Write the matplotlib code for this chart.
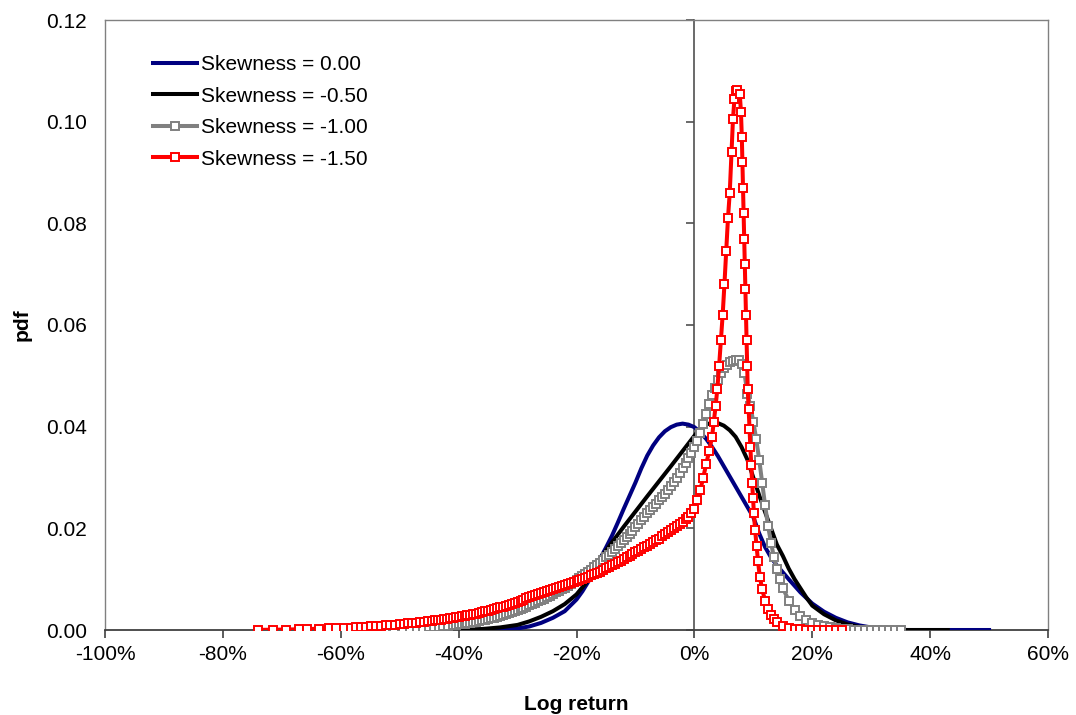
import matplotlib
matplotlib.use('Agg')
import matplotlib.pyplot as plt
from matplotlib.ticker import FuncFormatter

plt.rcParams['font.family'] = ['Liberation Sans', 'DejaVu Sans']

# log return in percent, pdf value
skew_000_x = [-45, -40, -36, -33, -30, -28, -26, -24, -22, -20, -19, -18, -17, -16,
              -15, -14, -13, -12, -11, -10, -9, -8, -7, -6, -5, -4, -3, -2, -1, 0,
              1, 2, 3, 4, 6, 8, 10, 11, 12, 13, 14, 16, 18, 20, 22, 24, 26, 28, 30,
              33, 36, 50]
skew_000_y = [0.0, 0.0, 0.0, 0.0001, 0.0003, 0.0007, 0.0014, 0.0024, 0.0037, 0.0060,
              0.0076, 0.0095, 0.0117, 0.0140, 0.0162, 0.0185, 0.0211, 0.0238, 0.0264,
              0.0290, 0.0318, 0.0343, 0.0363, 0.0379, 0.0391, 0.0399, 0.0404, 0.0406,
              0.0404, 0.0399, 0.0389, 0.0376, 0.0360, 0.0342, 0.0302, 0.0262, 0.0222,
              0.0190, 0.0163, 0.0143, 0.0127, 0.0100, 0.0074, 0.0052, 0.0036, 0.0024,
              0.0015, 0.0009, 0.0005, 0.0002, 0.0, 0.0]

skew_050_x = [-45, -40, -36, -33, -30, -28, -26, -24, -22, -20, -18, -16, -14, -12,
              -8, -4, 0, 1, 2, 3, 4, 5, 6, 7, 8, 9, 10, 11, 12, 13, 14, 15, 16, 17,
              18, 19, 20, 22, 24, 26, 28, 30, 33, 36, 43]
skew_050_y = [0.0, 0.0, 0.0002, 0.0005, 0.0010, 0.0017, 0.0026, 0.0037, 0.0051, 0.0070,
              0.0098, 0.0140, 0.0172, 0.0203, 0.0263, 0.0322, 0.0382, 0.0397, 0.0404,
              0.0408, 0.0407, 0.0402, 0.0393, 0.0380, 0.0360, 0.0335, 0.0300, 0.0265,
              0.0232, 0.0200, 0.0168, 0.0146, 0.0121, 0.0100, 0.0082, 0.0064, 0.0048,
              0.0031, 0.0019, 0.0011, 0.0006, 0.0003, 0.0001, 0.0, 0.0]

skew_100 = [
    (-62, 0.0), (-59, 0.00002), (-56.5, 0.00005), (-54.5, 0.00009), (-52.5, 0.00013),
    (-51, 0.00017), (-49.5, 0.00023), (-48.2, 0.00029), (-47, 0.00036), (-46, 0.00043),
    (-45, 0.00051), (-44.2, 0.00058), (-43.4, 0.00066), (-42.6, 0.00075),
    (-41.8, 0.00085), (-41, 0.00095), (-40.5, 0.00102), (-40, 0.00110),
    (-39.5, 0.00118), (-39, 0.00127), (-38.5, 0.00136), (-38, 0.00146),
    (-37.5, 0.00156), (-37, 0.00167), (-36.5, 0.00178), (-36, 0.00190),
    (-35.5, 0.00203), (-35, 0.00216), (-34.5, 0.00230), (-34, 0.00245),
    (-33.5, 0.00261), (-33, 0.00277), (-32.5, 0.00294), (-32, 0.00312),
    (-31.5, 0.00331), (-31, 0.00350), (-30.5, 0.00371), (-30, 0.00392),
    (-29.5, 0.00414), (-29, 0.00437), (-28.5, 0.00461), (-28, 0.00485),
    (-27.5, 0.00510), (-27, 0.00536), (-26.5, 0.00563), (-26, 0.00590),
    (-25.5, 0.00618), (-25, 0.00647), (-24.5, 0.00677), (-24, 0.00707),
    (-23.5, 0.00738), (-23, 0.00770), (-22.5, 0.00803), (-22, 0.00836),
    (-21.5, 0.00870), (-21, 0.00905), (-20.5, 0.00942), (-20, 0.00980),
    (-19.5, 0.01020), (-19, 0.01060), (-18.5, 0.01105), (-18, 0.01150),
    (-17.5, 0.01190), (-17, 0.01230), (-16.5, 0.01275), (-16, 0.01320),
    (-15.5, 0.01375), (-15, 0.01430), (-14.5, 0.01485), (-14, 0.01540),
    (-13.5, 0.01595), (-13, 0.01650), (-12.5, 0.01710), (-12, 0.01770),
    (-11.5, 0.01830), (-11, 0.01890), (-10.5, 0.01955), (-10, 0.02020),
    (-9.5, 0.02090), (-9, 0.02160), (-8.5, 0.02230), (-8, 0.02300),
    (-7.5, 0.02360), (-7, 0.02420), (-6.5, 0.02485), (-6, 0.02550),
    (-5.5, 0.02615), (-5, 0.02680), (-4.5, 0.02755), (-4, 0.02830),
    (-3.5, 0.02915), (-3, 0.03000), (-2.5, 0.03090), (-2, 0.03180),
    (-1.5, 0.03280), (-1, 0.03380), (-0.5, 0.03490), (0, 0.03600),
    (0.5, 0.0372), (1, 0.0388), (1.5, 0.0405), (2, 0.0425), (2.5, 0.0445),
    (3, 0.0462), (3.5, 0.0477), (4, 0.0492), (4.5, 0.0505), (5, 0.0515),
    (5.5, 0.0522), (6, 0.0527), (6.5, 0.0530), (7, 0.0532), (7.5, 0.0531),
    (8, 0.0524), (8.5, 0.0505), (9, 0.0465), (9.5, 0.0440), (10, 0.0410),
    (10.5, 0.0375), (11, 0.0335), (11.5, 0.0290), (12, 0.0245), (12.5, 0.0205),
    (13, 0.0172), (13.5, 0.0143), (14, 0.0120), (14.5, 0.0100), (15, 0.0083),
    (16, 0.0058), (17, 0.0040), (18, 0.0028), (19, 0.0020), (20, 0.0014),
    (21, 0.0010), (22, 0.0007), (23, 0.0005), (24, 0.0003), (25, 0.0002),
    (26, 0.0001), (27, 0.0), (28, 0.0), (29, 0.0), (30, 0.0), (31, 0.0), (32, 0.0),
    (33, 0.0), (34, 0.0), (35, 0.0),
]

skew_150 = [
    (-74, 0.00003), (-71.5, 0.00005), (-69.3, 0.00009), (-67.1, 0.00014),
    (-65.7, 0.00018), (-63.7, 0.00024), (-62, 0.00030), (-60.8, 0.00035),
    (-59.5, 0.00041), (-58.3, 0.00048), (-57.4, 0.00054), (-56.6, 0.00059),
    (-55.7, 0.00066), (-54.8, 0.00073), (-54, 0.00078), (-53.2, 0.00085),
    (-52.4, 0.00092), (-51.6, 0.00099), (-50.8, 0.00106), (-50, 0.00114),
    (-49.3, 0.00121), (-48.6, 0.00128), (-47.9, 0.00136), (-47.2, 0.00144),
    (-46.5, 0.00153), (-45.8, 0.00162), (-45.2, 0.00170), (-44.5, 0.00181),
    (-44, 0.00188), (-43.5, 0.00196), (-43, 0.00204), (-42.5, 0.00212),
    (-42, 0.00220), (-41.5, 0.00229), (-41, 0.00238), (-40.5, 0.00248),
    (-40, 0.00258), (-39.5, 0.00268), (-39, 0.00278), (-38.5, 0.00289),
    (-38, 0.00300), (-37.5, 0.00312), (-37, 0.00324), (-36.5, 0.00337),
    (-36, 0.00350), (-35.5, 0.00364), (-35, 0.00378), (-34.5, 0.00394),
    (-34, 0.00410), (-33.5, 0.00427), (-33, 0.00444), (-32.5, 0.00462),
    (-32, 0.00480), (-31.5, 0.00500), (-31, 0.00520), (-30.5, 0.00540),
    (-30, 0.00560), (-29.5, 0.00580), (-29, 0.00600), (-28.5, 0.00620),
    (-28, 0.00640), (-27.5, 0.00660), (-27, 0.00680), (-26.5, 0.00700),
    (-26, 0.00720), (-25.5, 0.00740), (-25, 0.00760), (-24.5, 0.00780),
    (-24, 0.00800), (-23.5, 0.00820), (-23, 0.00840), (-22.5, 0.00860),
    (-22, 0.00880), (-21.5, 0.00900), (-21, 0.00920), (-20.5, 0.00940),
    (-20, 0.00960), (-19.5, 0.00982), (-19, 0.01005), (-18.5, 0.01027),
    (-18, 0.01050), (-17.5, 0.01075), (-17, 0.01100), (-16.5, 0.01125),
    (-16, 0.01150), (-15.5, 0.01180), (-15, 0.01210), (-14.5, 0.01240),
    (-14, 0.01270), (-13.5, 0.01302), (-13, 0.01335), (-12.5, 0.01367),
    (-12, 0.01400), (-11.5, 0.01432), (-11, 0.01465), (-10.5, 0.01497),
    (-10, 0.01530), (-9.5, 0.01562), (-9, 0.01595), (-8.5, 0.01627),
    (-8, 0.01660), (-7.5, 0.01695), (-7, 0.01730), (-6.5, 0.01765),
    (-6, 0.01800), (-5.5, 0.01840), (-5, 0.01880), (-4.5, 0.01920),
    (-4, 0.01960), (-3.5, 0.02002), (-3, 0.02045), (-2.5, 0.02087),
    (-2, 0.02130), (-1.5, 0.02175), (-1, 0.02220), (-0.5, 0.02300),
    (0, 0.02380), (0.5, 0.0255), (1, 0.0275), (1.5, 0.0300), (2, 0.0326),
    (2.5, 0.0352), (3, 0.0380), (3.3, 0.0410), (3.6, 0.0440), (3.9, 0.0475),
    (4.2, 0.0520), (4.5, 0.0570), (4.8, 0.0620), (5.1, 0.0680), (5.4, 0.0745),
    (5.7, 0.0810), (6.0, 0.0860), (6.3, 0.0940), (6.55, 0.1005), (6.8, 0.1045),
    (7.05, 0.1060), (7.3, 0.1062), (7.7, 0.1055), (7.9, 0.1020), (8.05, 0.0970),
    (8.15, 0.0920), (8.25, 0.0870), (8.35, 0.0820), (8.45, 0.0770),
    (8.55, 0.0720), (8.65, 0.0670), (8.75, 0.0620), (8.85, 0.0570),
    (8.95, 0.0520), (9.05, 0.0475), (9.2, 0.0435), (9.35, 0.0395), (9.5, 0.0360),
    (9.65, 0.0325), (9.8, 0.0290), (9.95, 0.0260), (10.1, 0.0230),
    (10.3, 0.0197), (10.55, 0.0165), (10.8, 0.0135), (11.1, 0.0105),
    (11.5, 0.0080), (12.0, 0.0058), (12.5, 0.0042), (13.0, 0.0030),
    (13.5, 0.0021), (14, 0.0015), (15, 0.0008), (16, 0.00045), (17, 0.00025),
    (18, 0.00014), (19, 0.00008), (20, 0.00005), (21, 0.00003), (22, 0.00002),
    (23, 0.00001), (24, 0.0), (25, 0.0),
]

labels = ['Skewness = 0.00', 'Skewness = -0.50', 'Skewness = -1.00', 'Skewness = -1.50']
x_ticks = list(range(-100, 61, 20))
y_ticks = [0.0, 0.02, 0.04, 0.06, 0.08, 0.10, 0.12]


def main():
    fig = plt.figure(figsize=(10.76, 7.15), dpi=100)
    ax = fig.add_axes([105 / 1076, 85 / 715, 943 / 1076, 610 / 715])

    line_kw = dict(lw=2.9, solid_joinstyle='round')
    mark_kw = dict(marker='s', ms=6.2, mfc='white', mew=1.4)
    gray_x, gray_y = zip(*skew_100)
    red_x, red_y = zip(*skew_150)
    ax.plot(skew_000_x, skew_000_y, color='#000080', label=labels[0], zorder=3, **line_kw)
    ax.plot(skew_050_x, skew_050_y, color='black', label=labels[1], zorder=4, **line_kw)
    ax.plot(gray_x, gray_y, color='#808080', mec='#808080', label=labels[2],
            zorder=5, **line_kw, **mark_kw)
    ax.plot(red_x, red_y, color='#ff0000', mec='#ff0000', label=labels[3],
            zorder=6, **line_kw, **mark_kw)

    ax.set_xlim(-100, 60)
    ax.set_ylim(0, 0.12)
    ax.set_xticks(x_ticks)
    ax.set_yticks(y_ticks)
    ax.xaxis.set_major_formatter(FuncFormatter(lambda v, p: f'{v:.0f}%'))

    # the value axis crosses at 0%, labels stay on the frame edge
    ax.spines['left'].set_position(('data', 0))
    ax.spines['left'].set_color('#505050')
    ax.spines['left'].set_linewidth(1.2)
    ax.tick_params(axis='y', direction='out', length=6, width=1.2, color='#505050',
                   labelleft=False)
    for side in ['top', 'right']:
        ax.spines[side].set_color('#808080')
        ax.spines[side].set_linewidth(1.0)
    ax.spines['bottom'].set_color('#404040')
    ax.spines['bottom'].set_linewidth(1.3)
    ax.tick_params(axis='x', direction='out', length=6, width=1.2, color='#404040',
                   labelsize=15, pad=5)

    frame = ax.secondary_yaxis(0)
    frame.set_yticks(y_ticks)
    frame.yaxis.set_major_formatter(FuncFormatter(lambda v, p: f'{v:.2f}'))
    frame.spines['left'].set_color('#808080')
    frame.spines['left'].set_linewidth(1.0)
    frame.tick_params(length=0, labelsize=15, pad=13)
    frame.set_ylabel('pdf', fontsize=15, fontweight='bold', labelpad=10)

    ax.set_xlabel('Log return', fontsize=15, fontweight='bold', labelpad=22)

    ax.legend(loc='upper left', bbox_to_anchor=(0.042, 0.956), frameon=False,
              fontsize=15, handlelength=2.1, handletextpad=0.2, labelspacing=0.6,
              borderaxespad=0)

    fig.savefig('out.png', dpi=100)
    plt.close(fig)


if __name__ == '__main__':
    main()
